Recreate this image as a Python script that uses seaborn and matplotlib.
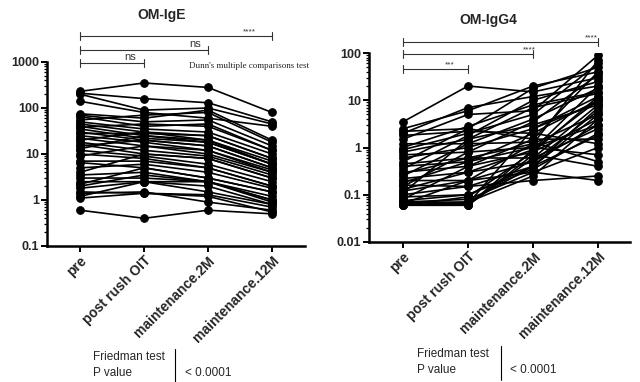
import matplotlib
matplotlib.use("Agg")
import matplotlib.pyplot as plt
import numpy as np
import pandas as pd
import seaborn as sns

# time points
timepoints = ["pre", "post rush OIT", "maintenance.2M", "maintenance.12M"]

# OM-IgE, one value per subject at each time point
ige_pre = [230, 210, 200, 140, 75, 70, 65, 55, 50, 45, 40, 38, 35, 30, 28, 25, 22, 20, 18, 16,
           15, 13, 12, 10, 9, 7, 6.5, 5, 4, 3.5, 3, 2.5, 2.2, 2, 1.8, 1.5, 1.4, 1.2, 1.1, 0.6]
ige_post = [350, 160, 90, 80, 60, 50, 40, 70, 35, 30, 25, 45, 22, 20, 28, 18, 15, 30, 12, 10,
            20, 25, 9, 8, 15, 7, 5, 6, 10, 4, 3, 2.5, 5, 3.5, 2.5, 1.4, 1.5, 2.5, 1.4, 0.4]
ige_m2 = [280, 130, 100, 60, 90, 55, 45, 80, 30, 25, 20, 40, 18, 15, 25, 12, 10, 20, 9, 8,
          15, 18, 6, 5, 12, 5, 3, 4, 8, 2.5, 2.5, 2.5, 3, 2.5, 2, 1.3, 0.9, 1.5, 1.2, 0.6]
ige_m12 = [80, 50, 45, 40, 20, 15, 12, 18, 10, 8, 7, 12, 6, 5, 8, 4.5, 4, 6, 3.5, 3,
           5, 6, 2.5, 2, 4, 2, 1.5, 1.8, 3, 1.2, 1.0, 0.9, 1.5, 1.0, 0.8, 0.7, 0.6, 0.8, 0.55, 0.5]

# OM-IgG4
igg4_pre = [3.5, 2.5, 2.2, 2.0, 1.8, 1.5, 1.2, 1.0, 0.9, 0.8, 0.7, 0.6, 0.5, 0.45, 0.4, 0.35,
            0.3, 0.28, 0.25, 0.22, 0.2, 0.18, 0.16, 0.15, 0.13, 0.12, 0.11, 0.1, 0.09, 0.08,
            0.075, 0.07, 0.07, 0.065, 0.06, 0.06, 0.06, 0.065, 0.07, 0.06]
igg4_post = [20, 6, 2.5, 7, 2.2, 5, 1.2, 2.8, 2.0, 1.5, 0.8, 1.0, 2.5, 0.6, 0.5, 1.8,
             0.4, 0.6, 1.2, 0.3, 0.2, 0.5, 0.15, 0.8, 0.3, 0.2, 1.5, 0.15, 0.1, 0.4,
             0.1, 0.08, 0.07, 0.2, 0.06, 0.07, 0.09, 0.06, 0.065, 0.06]
igg4_m2 = [15, 20, 1.5, 12, 2.0, 6, 1.3, 8, 5, 3, 1.0, 2.5, 18, 1.2, 1.0, 10,
           0.8, 0.6, 4, 0.5, 0.3, 2, 0.4, 3.5, 0.9, 0.5, 7, 0.2, 0.4, 1.5,
           0.35, 0.3, 0.25, 1.2, 0.6, 0.4, 0.8, 0.9, 2.5, 0.7]
igg4_m12 = [30, 40, 1.5, 20, 1.2, 90, 0.5, 15, 60, 8, 0.7, 12, 50, 5, 3, 25,
            4, 2.5, 18, 6, 0.2, 10, 1.8, 35, 10, 3, 14, 0.25, 7, 40,
            2, 1.0, 4, 70, 8, 5, 12, 20, 9, 0.4]

ige_brackets = [("pre", "maintenance.12M", "****"), ("pre", "maintenance.2M", "ns"),
                ("pre", "post rush OIT", "ns")]
igg4_brackets = [("pre", "maintenance.12M", "****"), ("pre", "maintenance.2M", "****"),
                 ("pre", "post rush OIT", "***")]


def _long_frame(series: list[list[float]]) -> pd.DataFrame:
    rows = []
    for t_idx, values in enumerate(series):
        for subj, v in enumerate(values):
            rows.append({"subject": subj, "pos": t_idx, "value": v})
    return pd.DataFrame(rows)


def _draw_panel(ax, df, ylim, xlim, brackets, bracket_y, label_x):
    sns.lineplot(data=df, x="pos", y="value", units="subject", estimator=None,
                 color="black", linewidth=1.2, marker="o", markersize=5.5,
                 markeredgecolor="black", ax=ax, legend=False)
    ax.set_yscale("log")
    ax.set_ylim(*ylim)
    ax.set_xlim(*xlim)
    ax.set_xticks(range(len(timepoints)))
    ax.set_xticklabels(timepoints, rotation=45, ha="right", rotation_mode="anchor",
                       fontweight="bold", fontsize=10)
    ax.set_xlabel("")
    ax.set_ylabel("")
    ax.yaxis.set_major_formatter(matplotlib.ticker.FuncFormatter(lambda v, p: f"{v:g}"))
    ax.yaxis.set_minor_locator(matplotlib.ticker.LogLocator(base=10, subs=np.arange(2, 10)))
    ax.yaxis.set_minor_formatter(matplotlib.ticker.NullFormatter())
    for lbl in ax.get_yticklabels():
        lbl.set_fontweight("bold")
        lbl.set_fontsize(9)
    for side in ["top", "right"]:
        ax.spines[side].set_visible(False)
    for side in ["left", "bottom"]:
        ax.spines[side].set_linewidth(1.8)
        ax.spines[side].set_color("black")
    ax.tick_params(axis="both", which="both", left=True, bottom=True, direction="out")
    ax.tick_params(axis="both", which="major", length=4, width=1.4, color="black", pad=1.5)
    ax.tick_params(axis="y", which="minor", length=2.5, width=0.9, color="black")
    ax.grid(False)

    trans = ax.get_xaxis_transform()
    for (start, end, text), yb, lx in zip(brackets, bracket_y, label_x):
        x0, x1 = timepoints.index(start), timepoints.index(end)
        ax.plot([x0, x1], [yb, yb], transform=trans, color="#333333", lw=0.8,
                clip_on=False)
        for xe in (x0, x1):
            ax.plot([xe, xe], [yb - 0.02, yb + 0.02], transform=trans, color="#333333",
                    lw=0.8, clip_on=False)
        ax.text(lx, yb + 0.005, text, transform=trans, ha="center", va="bottom",
                fontsize=6 if "*" in text else 8, color="#333333")


def main() -> None:
    sns.set_theme(style="white")
    plt.rcParams["font.family"] = ["Liberation Sans", "DejaVu Sans"]

    fig = plt.figure(figsize=(6.4, 3.82), dpi=100)
    ax1 = fig.add_axes([47 / 640, 136 / 382, 258 / 640, 184 / 382])
    ax2 = fig.add_axes([369 / 640, 140 / 382, 261 / 640, 189 / 382])

    _draw_panel(ax1, _long_frame([ige_pre, ige_post, ige_m2, ige_m12]), (0.1, 1000),
                (-0.516, 3.516), ige_brackets, [1.141, 1.065, 0.995], [2.65, 1.8, 0.78])
    _draw_panel(ax2, _long_frame([igg4_pre, igg4_post, igg4_m2, igg4_m12]), (0.01, 100),
                (-0.523, 3.49), igg4_brackets, [1.058, 0.995, 0.915], [2.9, 1.95, 0.72])

    fig.text(162 / 640, 1 - 15 / 382, "OM-IgE", ha="center", va="center",
             fontweight="bold", fontsize=10)
    fig.text(488 / 640, 1 - 20 / 382, "OM-IgG4", ha="center", va="center",
             fontweight="bold", fontsize=10)
    fig.text(189 / 640, 1 - 66 / 382, "Dunn's multiple comparisons test", ha="left",
             va="center", fontsize=6.5, family=["Liberation Serif", "DejaVu Serif"])

    for x_text, x_bar, x_val, y_top in [(93, 175, 185, 357), (417, 501, 510, 354)]:
        fig.text(x_text / 640, 1 - y_top / 382, "Friedman test", ha="left", va="center",
                 fontsize=8.5)
        fig.text(x_text / 640, 1 - (y_top + 16) / 382, "P value", ha="left", va="center",
                 fontsize=8.5)
        fig.text(x_val / 640, 1 - (y_top + 16) / 382, "< 0.0001", ha="left", va="center",
                 fontsize=8.5)
        fig.add_artist(matplotlib.lines.Line2D([x_bar / 640, x_bar / 640],
                                               [1 - (y_top - 8) / 382, 1 - (y_top + 26) / 382],
                                               color="black", lw=0.8))

    fig.savefig("out.png", dpi=100)


if __name__ == "__main__":
    main()
